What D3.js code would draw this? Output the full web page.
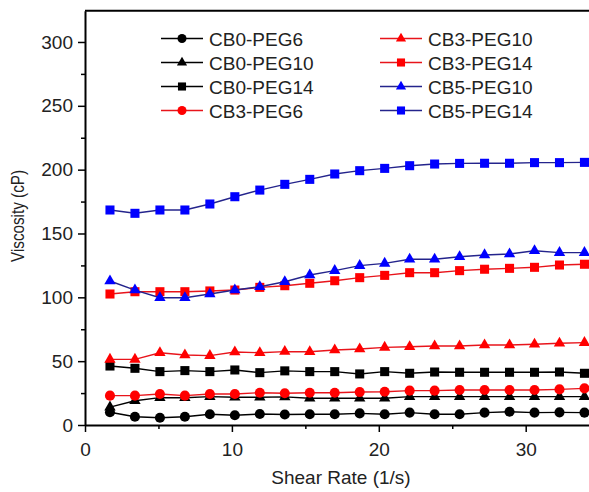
<!DOCTYPE html>
<html>
<head>
<meta charset="utf-8">
<script src="https://cdn.jsdelivr.net/npm/d3@7"></script>
<style>
  body { margin: 0; background: #fff; }
  text { font-family: "Liberation Sans", Arial, sans-serif; }
</style>
</head>
<body>
<div id="container"></div>
<script>
// shear rate (1/s)
const shear = [1.7, 3.4, 5.1, 6.8, 8.5, 10.2, 11.9, 13.6, 15.3, 17.0, 18.7, 20.4, 22.1, 23.8, 25.5, 27.2, 28.9, 30.6, 32.3, 34.0];

// viscosity (cP)
const cb0Peg6  = [10, 6.5, 5.7, 6.5, 8.4, 7.6, 8.6, 8.2, 8.4, 8.4, 9.1, 8.4, 9.7, 8.4, 8.4, 9.7, 10.4, 9.7, 9.9, 9.7];
const cb0Peg10 = [14, 19, 21.4, 21.4, 22.2, 21.7, 21.7, 22, 20.9, 20.9, 20.9, 20.9, 22.2, 22.2, 22.2, 22.2, 22.2, 22.2, 22.2, 22.2];
const cb0Peg14 = [46.2, 44.4, 41.8, 42.6, 41.8, 43.1, 41, 42.4, 41.8, 41.8, 40, 41.8, 40.5, 41.5, 41.3, 41.3, 41.3, 41.3, 41.5, 40.5];
const cb3Peg6  = [23, 23, 24.3, 23, 24.3, 24.3, 25.3, 24.9, 25.3, 25.3, 25.8, 26, 26.9, 26.9, 27.4, 27.4, 27.4, 27.4, 27.9, 28.7];
const cb3Peg10 = [51.4, 51.4, 56.6, 54.8, 54.3, 57.2, 56.6, 57.5, 57.4, 58.7, 59.5, 60.8, 61.3, 61.9, 61.9, 62.7, 62.7, 63.2, 64, 64.5];
const cb3Peg14 = [102.6, 104.4, 104.4, 104.4, 105, 105.7, 107.8, 109.1, 111, 113, 115.4, 117.2, 119.3, 119.3, 120.9, 122, 122.7, 123.5, 125.3, 125.9];
const cb5Peg10 = [112.8, 105.7, 99.7, 99.7, 102.6, 105.7, 108.3, 112.2, 117.5, 120.9, 124.8, 126.6, 129.8, 129.8, 131.8, 133.2, 133.9, 136.5, 135, 135];
const cb5Peg14 = [168.4, 165.8, 168.4, 168.4, 173.1, 178.8, 184, 188.5, 192.4, 196.6, 199.2, 201, 203.1, 204.4, 204.9, 205, 205, 205.5, 205.5, 205.7];

const seriesNames = ["CB0-PEG6", "CB0-PEG10", "CB0-PEG14", "CB3-PEG6", "CB3-PEG10", "CB3-PEG14", "CB5-PEG10", "CB5-PEG14"];
const seriesValues = [cb0Peg6, cb0Peg10, cb0Peg14, cb3Peg6, cb3Peg10, cb3Peg14, cb5Peg10, cb5Peg14];

const xTicks = [0, 10, 20, 30];
const xMinor = [5, 15, 25, 35];
const yTicks = [0, 50, 100, 150, 200, 250, 300];
const yMinor = [25, 75, 125, 175, 225, 275];

const w = 589;
const h = 492;

const svg = d3.select("#container")
  .append("svg")
  .attr("width", w)
  .attr("height", h);

svg.append("rect").attr("width", w).attr("height", h).attr("fill", "#fff");

const xScale = d3.scaleLinear()
  .domain([0, 36])
  .range([85, 85 + 36 * 14.69]);

const yScale = d3.scaleLinear()
  .domain([0, 324.5])
  .range([425, 10.7]);

const markColor = (name) => name.startsWith("CB0") ? "#000" : name.startsWith("CB3") ? "#ff0000" : "#0000ff";
const lineColor = (name) => name.startsWith("CB0") ? "#000" : name.startsWith("CB3") ? "#e8141b" : "#24248c";
const shapeOf = (name) => name.endsWith("PEG6") ? d3.symbolCircle : name.endsWith("PEG10") ? d3.symbolTriangle : d3.symbolSquare;
const sizeOf = (name) => name.endsWith("PEG6") ? 80 : name.endsWith("PEG10") ? 56 : 82;

// frame: top border (right border falls outside the picture)
svg.append("line")
  .attr("x1", xScale(0)).attr("x2", xScale(36))
  .attr("y1", yScale(324.5)).attr("y2", yScale(324.5))
  .attr("stroke", "#000").attr("stroke-width", 2);
svg.append("line")
  .attr("x1", xScale(36)).attr("x2", xScale(36))
  .attr("y1", yScale(0)).attr("y2", yScale(324.5))
  .attr("stroke", "#000").attr("stroke-width", 2);

// minor ticks
svg.append("g")
  .attr("transform", "translate(0," + yScale(0) + ")")
  .call(d3.axisBottom(xScale).tickValues(xMinor).tickSize(4).tickFormat(""))
  .call(g => g.select(".domain").remove())
  .selectAll("line").attr("stroke-width", 1.5);
svg.append("g")
  .attr("transform", "translate(" + xScale(0) + ",0)")
  .call(d3.axisLeft(yScale).tickValues(yMinor).tickSize(4).tickFormat(""))
  .call(g => g.select(".domain").remove())
  .selectAll("line").attr("stroke-width", 1.5);

// major axes
const xAxis = svg.append("g")
  .attr("transform", "translate(0," + yScale(0) + ")")
  .call(d3.axisBottom(xScale).tickValues(xTicks).tickSize(7).tickSizeOuter(0).tickPadding(11));
const yAxis = svg.append("g")
  .attr("transform", "translate(" + xScale(0) + ",0)")
  .call(d3.axisLeft(yScale).tickValues(yTicks).tickSize(7).tickSizeOuter(0).tickPadding(5));

[xAxis, yAxis].forEach(g => {
  g.select(".domain").attr("stroke-width", 2);
  g.selectAll(".tick line").attr("stroke-width", 1.5);
  g.selectAll("text")
    .style("font-size", "19px")
    .style("font-family", "'Liberation Sans', Arial, sans-serif")
    .attr("fill", "#222");
});

// axis titles
svg.append("text")
  .attr("x", 341)
  .attr("y", 484)
  .attr("text-anchor", "middle")
  .style("font-size", "19px")
  .attr("fill", "#222")
  .text("Shear Rate (1/s)");

svg.append("text")
  .attr("transform", "translate(24,216) rotate(-90)")
  .attr("text-anchor", "middle")
  .attr("textLength", 92)
  .attr("lengthAdjust", "spacingAndGlyphs")
  .style("font-size", "18px")
  .attr("fill", "#222")
  .text("Viscosity (cP)");

// series
const line = d3.line()
  .x((d, i) => xScale(shear[i]))
  .y((d) => yScale(d));

seriesNames.forEach((name, k) => {
  const vals = seriesValues[k];
  svg.append("path")
    .datum(vals)
    .attr("d", line)
    .attr("fill", "none")
    .attr("stroke", lineColor(name))
    .attr("stroke-width", 1.4);
  svg.append("g")
    .selectAll("path")
    .data(vals)
    .enter()
    .append("path")
    .attr("transform", (d, i) => "translate(" + xScale(shear[i]) + "," + yScale(d) + ")")
    .attr("d", d3.symbol().type(shapeOf(name)).size(sizeOf(name)))
    .attr("fill", markColor(name));
});

// legend
const legend = svg.append("g");
const legendRows = [38.5, 62.5, 86.5, 110.5];
seriesNames.forEach((name, k) => {
  const col = Math.floor(k / 4);
  const row = k % 4;
  const x0 = col === 0 ? 161 : 380;
  const yy = legendRows[row];
  legend.append("line")
    .attr("x1", x0).attr("x2", x0 + 42)
    .attr("y1", yy).attr("y2", yy)
    .attr("stroke", lineColor(name))
    .attr("stroke-width", 1.4);
  legend.append("path")
    .attr("transform", "translate(" + (x0 + 21) + "," + yy + ")")
    .attr("d", d3.symbol().type(shapeOf(name)).size(sizeOf(name) * 0.8))
    .attr("fill", markColor(name));
  legend.append("text")
    .attr("x", x0 + 48)
    .attr("y", yy + 7)
    .style("font-size", "19px")
    .attr("fill", "#222")
    .text(name);
});
</script>
</body>
</html>
